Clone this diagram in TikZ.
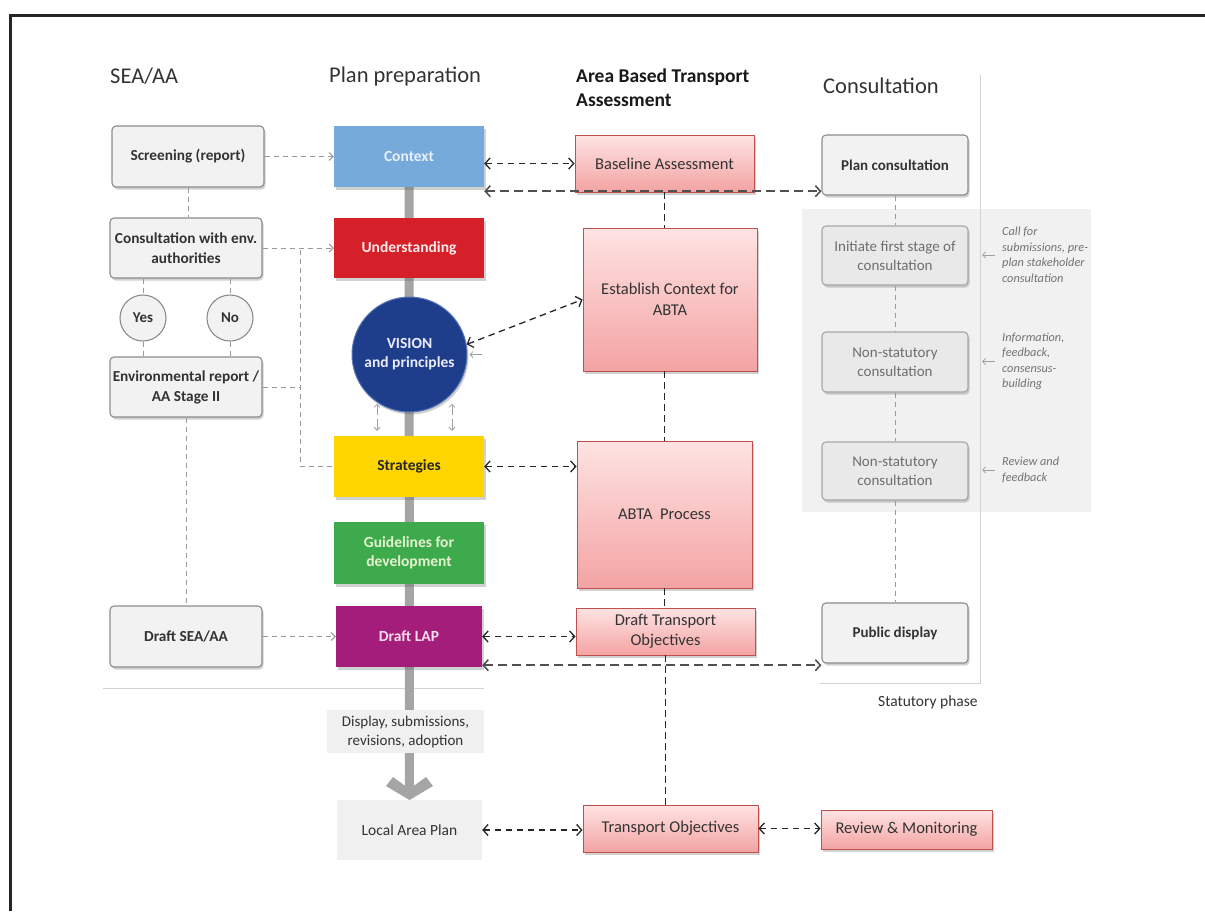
\documentclass[tikz,border=0pt]{standalone}
\usepackage{fontspec}
\setmainfont{Carlito}
\usetikzlibrary{arrows.meta,shadows,backgrounds,calc}

\definecolor{seafill}{HTML}{F2F2F2}
\definecolor{seaborder}{HTML}{8C8C8C}
\definecolor{txtdark}{HTML}{333333}
\definecolor{ctxblue}{HTML}{75AADB}
\definecolor{ctxtxt}{HTML}{E6F0FA}
\definecolor{undred}{HTML}{D5202A}
\definecolor{visblue}{HTML}{1E3D8A}
\definecolor{visedge}{HTML}{5A78B8}
\definecolor{stratyel}{HTML}{FFD500}
\definecolor{guidegreen}{HTML}{3DAA4B}
\definecolor{guidetxt}{HTML}{E5F3D0}
\definecolor{lappurple}{HTML}{A51D7B}
\definecolor{laptxt}{HTML}{F6DDEB}
\definecolor{lapgray}{HTML}{F0F0F0}
\definecolor{abtatop}{HTML}{FFE3E3}
\definecolor{abtabot}{HTML}{F3A3A3}
\definecolor{abtaborder}{HTML}{C0504D}
\definecolor{consfill}{HTML}{E9E9E9}
\definecolor{consborder}{HTML}{A6A6A6}
\definecolor{constxt}{HTML}{6E6E6E}
\definecolor{shadefill}{HTML}{F1F1F1}
\definecolor{notetxt}{HTML}{737373}
\definecolor{bargray}{HTML}{A5A5A5}
\definecolor{gdash}{HTML}{9A9A9A}
\definecolor{darkdash}{HTML}{505050}

\tikzset{
  sz/.style 2 args={minimum width=#1pt, minimum height=#2pt},
  shad/.style={drop shadow={shadow xshift=1.5pt, shadow yshift=-2.5pt, opacity=.3, fill=black!60}},
  hd/.style={font=\fontsize{22.5}{26}\selectfont, text=txtdark, inner sep=0pt},
  hdb/.style={font=\fontsize{19.5}{24}\selectfont\bfseries, text=black!90, inner sep=0pt},
  seabox/.style={draw=seaborder, fill=seafill, rounded corners=4pt, line width=1.1pt,
    font=\fontsize{15.3}{20}\selectfont\bfseries, text=txtdark, align=center, inner sep=1pt, shad},
  yesno/.style={circle, draw=seaborder, fill=seafill, line width=1.1pt, minimum size=46pt,
    font=\fontsize{15}{18}\selectfont\bfseries, text=txtdark, inner sep=0pt},
  ppbox/.style={font=\fontsize{15.5}{19}\selectfont\bfseries, align=center, inner sep=1pt, shad},
  graybox/.style={fill=lapgray, font=\fontsize{15}{19}\selectfont, text=txtdark, align=center, inner sep=1pt},
  abta/.style={draw=abtaborder, line width=0.9pt, top color=abtatop, bottom color=abtabot,
    font=\fontsize{16.5}{21}\selectfont, text=txtdark, align=center, inner sep=1pt, shad},
  consbox/.style={draw=consborder, fill=consfill, rounded corners=4pt, line width=1.1pt,
    font=\fontsize{15}{19}\selectfont, text=constxt, align=center, inner sep=1pt, shad},
  consmain/.style={consbox, fill=seafill, draw=seaborder, text=txtdark, font=\fontsize{15}{19}\selectfont\bfseries},
  note/.style={font=\fontsize{12.3}{15.5}\selectfont\itshape, text=notetxt, align=left, inner sep=0pt},
  gdl/.style={draw=gdash, line width=1pt, dash pattern=on 5pt off 4pt},
  gda/.style={gdl, -{Straight Barb[length=4pt,width=8pt]}},
  bdl/.style={draw=black!85, line width=1.3pt, dash pattern=on 6.5pt off 4.5pt},
  bda/.style={bdl, {Straight Barb[length=5pt,width=11pt]}-{Straight Barb[length=5pt,width=11pt]}},
  dda/.style={draw=darkdash, line width=1.6pt, dash pattern=on 9pt off 5pt,
    {Straight Barb[length=5pt,width=11pt]}-{Straight Barb[length=5pt,width=11pt]}},
  garrow/.style={draw=gray!75, line width=0.8pt, -{Straight Barb[length=3pt,width=6pt]}},
}

\begin{document}
\begin{tikzpicture}[x=1pt,y=-1pt]
\useasboundingbox (0,0) rectangle (1205,911);

% frame
\draw[line width=3pt, black!85] (10,911) -- (10,15) -- (1205,15);

% headings
\node[hd, anchor=west] (hsea) at (110,76) {SEA/AA};
\node[hd, anchor=west] (hplan) at (329,76) {Plan preparation};
\node[hdb, anchor=west, align=left] (habta) at (576,88) {Area Based Transport\\Assessment};
\node[hd, anchor=west] (hcons) at (823,86) {Consultation};

% SEA/AA column
\node[seabox, sz={152}{61}] (screen) at (188,156.5) {Screening (report)};
\node[seabox, sz={152}{60}] (consenv) at (186,248) {Consultation with env.\\authorities};
\node[yesno] (yes) at (143,318) {Yes};
\node[yesno] (no) at (230,318) {No};
\node[seabox, sz={152}{60}] (envrep) at (186,387) {Environmental report /\\AA Stage II};
\node[seabox, sz={152}{61}] (draftsea) at (186,636.5) {Draft SEA/AA};

% plan preparation column
\node[ppbox, sz={150}{61}, fill=ctxblue, text=ctxtxt] (context) at (409,156.5) {Context};
\node[ppbox, sz={150}{60}, fill=undred, text=white!92!red] (underst) at (409,248) {Understanding};
\node[ppbox, circle, minimum size=115pt, fill=visblue, draw=visedge, line width=1pt, text=white!92!blue] (vision) at (409.5,354.5) {VISION\\and principles};
\node[ppbox, sz={150}{61}, fill=stratyel, text=black!85] (strat) at (409,466.5) {Strategies};
\node[ppbox, sz={150}{62}, fill=guidegreen, text=guidetxt] (guide) at (409,553) {Guidelines for\\development};
\node[ppbox, sz={146}{61}, fill=lappurple, text=laptxt] (draftlap) at (409,636.5) {Draft LAP};
\node[graybox, sz={157}{43}] (display) at (405.5,731.5) {Display, submissions,\\revisions, adoption};
\node[graybox, sz={145}{60}, font=\fontsize{15.5}{19}\selectfont] (lap) at (409.5,830) {Local Area Plan};

% ABTA column
\node[abta, sz={179}{57}] (baseline) at (664.5,163.5) {Baseline Assessment};
\node[abta, sz={174}{143}] (establish) at (670,299.5) {Establish Context for\\ABTA};
\node[abta, sz={175}{147}] (abtaproc) at (664.5,514.5) {ABTA\ \ Process};
\node[abta, sz={179}{47}, font=\fontsize{16.5}{20}\selectfont] (drafttob) at (665.5,631.5) {Draft Transport\\Objectives};
\node[abta, sz={175}{47}] (tobj) at (670.5,828.5) {Transport Objectives};
\node[abta, sz={171}{39}] (review) at (906.5,829.5) {Review \& Monitoring};

% consultation column
\node[consmain, sz={146}{60}] (plancons) at (895,165) {Plan consultation};
\node[consbox, sz={146}{59}] (initiate) at (895,255.5) {Initiate first stage of\\consultation};
\node[consbox, sz={146}{60}] (nonstat1) at (895,362) {Non-statutory\\consultation};
\node[consbox, sz={146}{58}] (nonstat2) at (895,471) {Non-statutory\\consultation};
\node[consmain, sz={146}{60}] (pubdisp) at (895,633) {Public display};

% notes
\node[note, anchor=west] (note1) at (1002,255) {Call for\\submissions, pre-\\plan stakeholder\\consultation};
\node[note, anchor=west] (note2) at (1002,361.5) {Information,\\feedback,\\consensus-\\building};
\node[note, anchor=west] (note3) at (1002,470) {Review and\\feedback};
\draw[garrow] (note1.west) ++(-7pt,0) -- ++(-13pt,0);
\draw[garrow] (note2.west) ++(-7pt,0) -- ++(-13pt,0);
\draw[garrow] (note3.west) ++(-7pt,0) -- ++(-13pt,0);

\node[font=\fontsize{15.5}{18}\selectfont, text=txtdark, anchor=west, inner sep=0pt] (statph) at (878,702) {Statutory phase};

% background items
\begin{scope}[on background layer]
  \fill[shadefill] (802,209) rectangle (1091,512);
  \draw[gray!35, line width=1pt] (980,75) -- (980,683) -- (820,683);
  \draw[gray!35, line width=1pt] (103,688) -- (484,688);
  \coordinate (bartop) at (context.south);
  \coordinate (barend) at (409.5,790);
  \draw[bargray, line width=9pt] (bartop) -- (barend);
  \fill[bargray] (386,786) -- (393,777) -- (409.5,789) -- (426,777) -- (433,786) -- (409.5,800) -- cycle;
\end{scope}

% SEA/AA connectors
\draw[gdl] (screen.south) -- (screen.south |- consenv.north);
\draw[gdl] (yes.north |- consenv.south) -- (yes.north);
\draw[gdl] (no.north |- consenv.south) -- (no.north);
\draw[gdl] (yes.south) -- (yes.south |- envrep.north);
\draw[gdl] (no.south) -- (no.south |- envrep.north);
\draw[gdl] (envrep.south) -- (envrep.south |- draftsea.north);
\draw[gda] (screen.east) -- (screen.east -| context.west);
\draw[gda] (consenv.east) -- (consenv.east -| underst.west);
\coordinate (jx) at (300,250);
\draw[gdl] (envrep.east) -- (envrep.east -| jx);
\draw[gdl] (jx) |- (strat.west);
\draw[gda] (draftsea.east) -- (draftsea.east -| draftlap.west);

% small arrows between vision and strategies
\foreach \xx in {-32,43}{
  \draw[garrow] ([xshift=\xx pt]strat.north) ++(0,-21) -- ++(0,-11);
  \draw[garrow] ([xshift=\xx pt]strat.north) ++(0,-17) -- ++(0,12);
}
\draw[garrow] ([xshift=14pt]vision.east) -- ([xshift=2pt]vision.east);

% consultation connectors
\draw[gdl] (plancons.south) -- (initiate.north);
\draw[gdl] (initiate.south) -- (nonstat1.north);
\draw[gdl] (nonstat1.south) -- (nonstat2.north);
\draw[gdl] (nonstat2.south) -- (pubdisp.north);

% ABTA vertical connectors
\draw[bdl] (baseline.south) -- (baseline.south |- establish.north);
\draw[bdl] (abtaproc.north |- establish.south) -- (abtaproc.north);
\draw[bdl] (abtaproc.south) -- (abtaproc.south |- drafttob.north);
\draw[bdl] (drafttob.south) -- (drafttob.south |- tobj.north);

% black dashed double arrows
\draw[bda] (context.east |- baseline.west) -- (baseline.west);
\coordinate (c1) at ([yshift=-4pt]context.south east);
\draw[dda] (c1) -- (c1 -| plancons.west);
\draw[bda] (vision.10) -- (establish.west);
\draw[bda] (strat.east) -- (strat.east -| abtaproc.west);
\draw[bda] (draftlap.east) -- (draftlap.east -| drafttob.west);
\coordinate (c2) at ([yshift=2pt]draftlap.south east);
\draw[dda] (c2) -- (c2 -| pubdisp.west);
\draw[bda] (lap.east) -- (lap.east -| tobj.west);
\draw[bda] (tobj.east) -- (tobj.east -| review.west);

\end{tikzpicture}
\end{document}
